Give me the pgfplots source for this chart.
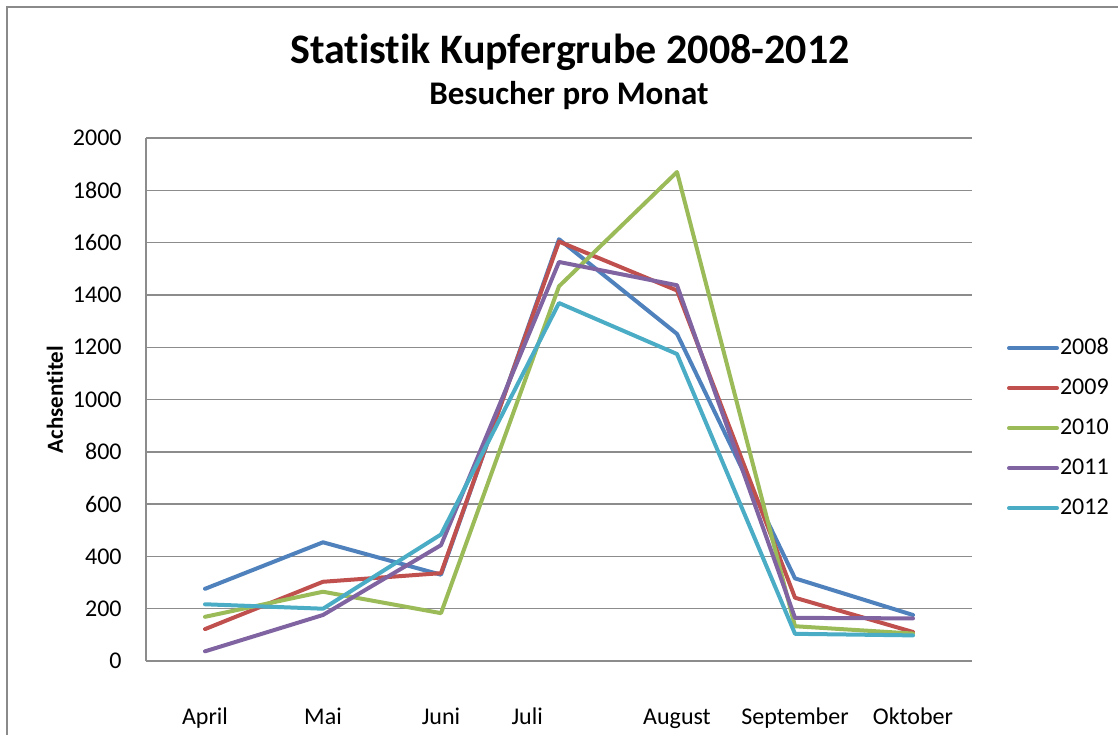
\documentclass[border=0pt]{standalone}
\usepackage{pgfplots}
\pgfplotsset{compat=1.18}
\usepackage{fontspec}
\setmainfont{Carlito}[Ligatures=NoCommon]
\definecolor{s08}{HTML}{4F81BD}
\definecolor{s09}{HTML}{C0504D}
\definecolor{s10}{HTML}{9BBB59}
\definecolor{s11}{HTML}{8064A2}
\definecolor{s12}{HTML}{4BACC6}
\definecolor{gridc}{HTML}{8C8C8C}
\definecolor{borderc}{HTML}{8A8A8A}
\begin{document}
\begin{tikzpicture}
\useasboundingbox (0pt,0pt) rectangle (559pt,-367.5pt);
\draw[borderc, line width=1pt] (3.5pt,-367.5pt) -- (3.5pt,-3.4pt) -- (559pt,-3.4pt);
\node[anchor=base, font=\fontsize{21}{24}\selectfont\bfseries] at (285pt,-31.5pt) {Statistik Kupfergrube 2008-2012};
\node[anchor=base, font=\fontsize{16.5}{19}\selectfont\bfseries] at (284.5pt,-52pt) {Besucher pro Monat};
\begin{axis}[
  at={(73pt,-330.5pt)}, anchor=south west,
  width=413pt, height=261.5pt, scale only axis,
  xmin=-0.5, xmax=6.5, ymin=0, ymax=2000,
  axis x line=bottom, axis y line=left,
  axis line style={gridc, line width=0.6pt, -},
  xtick={0,1,2,2.73,4,5,6},
  xticklabels={April,Mai,Juni,Juli,August,September,Oktober},
  ytick={0,200,...,2000},
  major tick length=0pt,
  ymajorgrids, grid style={gridc, line width=0.7pt},
  tick label style={font=\fontsize{12}{14}\selectfont},
  /pgf/number format/assume math mode=true,
  /pgf/number format/1000 sep={},
  xticklabel style={anchor=base, yshift=-31.5pt},
  yticklabel style={anchor=east, inner sep=0pt, xshift=-12pt},
  ylabel={Achsentitel},
  ylabel style={font=\fontsize{11.5}{13}\selectfont\bfseries, at={(axis description cs:-0.1102,0.5)}, anchor=center},
  legend style={at={(axis description cs:1.0424,0.4455)}, anchor=west, draw=none, fill=none, inner sep=0pt, outer sep=0pt,
    font=\fontsize{12}{14}\selectfont, nodes={inner sep=0.5pt, minimum height=20pt}},
  legend cell align=left,
  legend image code/.code={\draw[#1] (0pt,0pt) -- (24pt,0pt);},
  every axis plot/.append style={line width=2pt, line join=round, line cap=round},
]
\addplot[s08] coordinates {(0,276) (1,454) (2,330) (3,1613) (4,1251) (5,316) (6,176)};
\addplot[s09] coordinates {(0,122) (1,303) (2,336) (3,1604) (4,1417) (5,242) (6,111)};
\addplot[s10] coordinates {(0,169) (1,265) (2,183) (3,1433) (4,1870) (5,133) (6,105)};
\addplot[s11] coordinates {(0,37) (1,176) (2,443) (3,1526) (4,1437) (5,165) (6,163)};
\addplot[s12] coordinates {(0,217) (1,200) (2,484) (3,1369) (4,1174) (5,104) (6,98)};
\legend{2008,2009,2010,2011,2012}
\end{axis}
\end{tikzpicture}
\end{document}
